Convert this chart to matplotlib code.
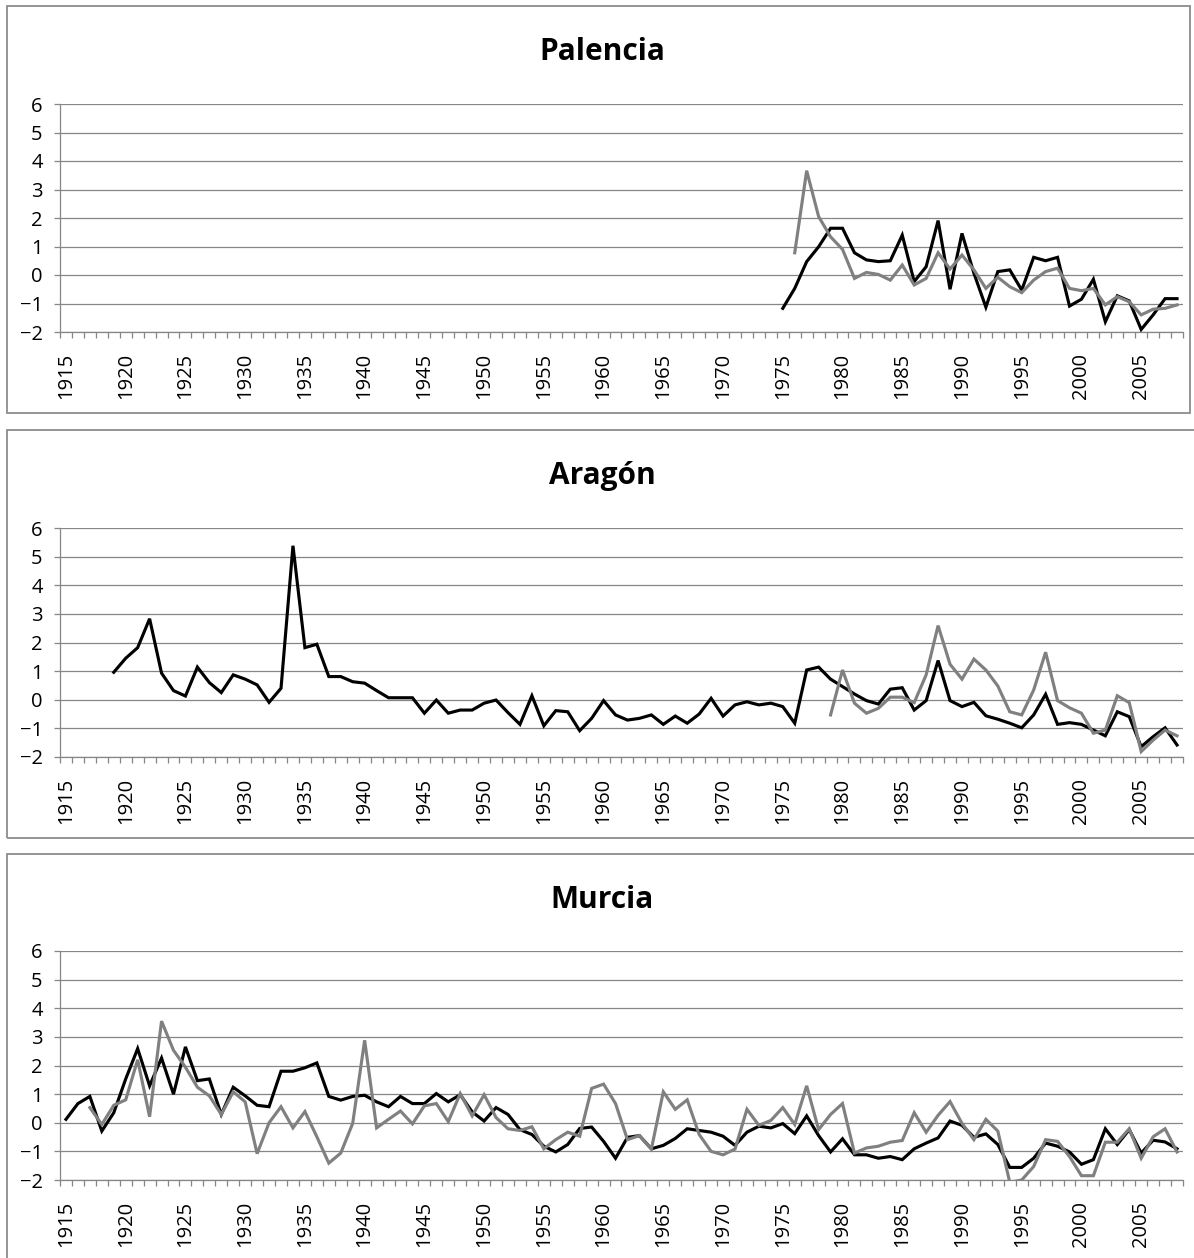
import matplotlib
matplotlib.use("Agg")
import matplotlib.pyplot as plt
from matplotlib.patches import Rectangle
import numpy as np

plt.rcParams['font.family'] = ['Open Sans', 'DejaVu Sans']

# ---- data ----
first_year = 1915
last_year = 2008
label_years = list(range(1915, 2006, 5))

titles = ["Palencia", "Aragón", "Murcia"]

palencia_black_start = 1975
palencia_black = [-1.17, -0.47, 0.47, 0.99, 1.64, 1.64, 0.78, 0.53, 0.47, 0.50,
                  1.40, -0.23, 0.29, 1.91, -0.50, 1.46, 0.06, -1.13, 0.12, 0.18,
                  -0.53, 0.62, 0.50, 0.62, -1.09, -0.85, -0.15, -1.64, -0.73, -0.91,
                  -1.91, -1.40, -0.83, -0.83]
palencia_grey_start = 1976
palencia_grey = [0.78, 3.66, 2.05, 1.34, 0.90, -0.12, 0.09, 0.02, -0.18, 0.35,
                 -0.35, -0.12, 0.78, 0.21, 0.70, 0.18, -0.47, -0.08, -0.41, -0.62,
                 -0.18, 0.12, 0.24, -0.47, -0.55, -0.47, -1.05, -0.76, -0.94, -1.40,
                 -1.20, -1.17, -1.05]

aragon_black_start = 1919
aragon_black = [0.96, 1.45, 1.82, 2.83, 0.93, 0.32, 0.13, 1.14, 0.60, 0.25,
                0.87, 0.72, 0.52, -0.09, 0.40, 5.38, 1.82, 1.94, 0.81, 0.81,
                0.63, 0.58, 0.32, 0.07, 0.07, 0.07, -0.47, -0.01, -0.47, -0.36,
                -0.36, -0.12, -0.01, -0.45, -0.86, 0.14, -0.91, -0.38, -0.42, -1.08,
                -0.65, -0.03, -0.53, -0.71, -0.65, -0.53, -0.86, -0.57, -0.82, -0.50,
                0.05, -0.57, -0.18, -0.07, -0.18, -0.12, -0.24, -0.82, 1.04, 1.14,
                0.72, 0.46, 0.20, -0.03, -0.15, 0.37, 0.42, -0.36, -0.03, 1.37,
                -0.03, -0.24, -0.09, -0.56, -0.68, -0.82, -0.98, -0.53, 0.19, -0.86,
                -0.80, -0.86, -1.06, -1.26, -0.42, -0.59, -1.64, -1.29, -0.98, -1.58]
aragon_grey_start = 1979
aragon_grey = [-0.53, 1.04, -0.12, -0.47, -0.30, 0.09, 0.09, -0.10, 0.87, 2.59,
               1.24, 0.72, 1.42, 1.04, 0.48, -0.42, -0.53, 0.34, 1.66, -0.03,
               -0.28, -0.47, -1.17, -1.06, 0.14, -0.10, -1.81, -1.41, -1.06, -1.26]

murcia_black_start = 1915
murcia_black = [0.12, 0.67, 0.92, -0.29, 0.35, 1.53, 2.59, 1.29, 2.26, 1.00,
                2.65, 1.47, 1.53, 0.29, 1.24, 0.94, 0.61, 0.56, 1.80, 1.80,
                1.92, 2.09, 0.92, 0.79, 0.92, 0.96, 0.73, 0.56, 0.92, 0.67,
                0.67, 1.02, 0.73, 0.98, 0.38, 0.06, 0.53, 0.29, -0.24, -0.41,
                -0.82, -1.02, -0.76, -0.20, -0.15, -0.65, -1.24, -0.51, -0.45, -0.91,
                -0.79, -0.55, -0.21, -0.27, -0.33, -0.47, -0.79, -0.33, -0.12, -0.18,
                -0.03, -0.38, 0.24, -0.45, -1.02, -0.56, -1.12, -1.12, -1.24, -1.18,
                -1.29, -0.91, -0.71, -0.53, 0.06, -0.09, -0.51, -0.39, -0.76, -1.56,
                -1.56, -1.24, -0.71, -0.82, -1.02, -1.45, -1.29, -0.21, -0.76, -0.24,
                -1.06, -0.61, -0.67, -0.91]
murcia_grey_start = 1917
murcia_grey = [0.53, -0.06, 0.61, 0.80, 2.20, 0.21, 3.55, 2.53, 1.94, 1.24,
               0.94, 0.29, 1.08, 0.73, -1.08, 0.00, 0.56, -0.18, 0.39, -0.49,
               -1.41, -1.06, -0.02, 2.88, -0.18, 0.12, 0.41, -0.04, 0.59, 0.67,
               0.04, 1.02, 0.24, 0.98, 0.18, -0.21, -0.27, -0.14, -0.91, -0.59,
               -0.33, -0.47, 1.20, 1.35, 0.67, -0.59, -0.45, -0.92, 1.08, 0.47,
               0.80, -0.41, -1.00, -1.12, -0.92, 0.47, -0.09, 0.08, 0.53, -0.06,
               1.29, -0.24, 0.29, 0.67, -1.06, -0.88, -0.82, -0.68, -0.62, 0.35,
               -0.33, 0.26, 0.74, -0.02, -0.59, 0.12, -0.29, -2.08, -2.00, -1.53,
               -0.59, -0.65, -1.18, -1.85, -1.85, -0.68, -0.68, -0.21, -1.24, -0.49,
               -0.21, -1.02]

panels = [
    (titles[0], palencia_black_start, palencia_black, palencia_grey_start, palencia_grey),
    (titles[1], aragon_black_start, aragon_black, aragon_grey_start, aragon_grey),
    (titles[2], murcia_black_start, murcia_black, murcia_grey_start, murcia_grey),
]

# ---- layout (pixel based) ----
W, H = 1194, 1258
fig = plt.figure(figsize=(W / 100, H / 100), dpi=100)

ax_left, ax_right = 60, 1183
ax_tops = [104, 528, 951]
ax_bottoms = [332, 757, 1180]
box_tops = [6, 430, 854]
box_bottoms = [413, 838, 1262]
box_rights = [1190, 1197, 1197]
title_y = [52, 476, 900]

grid_col = '#868686'
border_col = '#8c8c8c'

n_cat = last_year - first_year + 1

for i, (title, bs, bvals, gs, gvals) in enumerate(panels):
    # outer chart box
    fig.patches.append(Rectangle((7 / W, 1 - box_bottoms[i] / H),
                                 (box_rights[i] - 7) / W,
                                 (box_bottoms[i] - box_tops[i]) / H,
                                 transform=fig.transFigure, fill=False,
                                 edgecolor=border_col, linewidth=1.3, zorder=0))
    ax = fig.add_axes([ax_left / W, 1 - ax_bottoms[i] / H,
                       (ax_right - ax_left) / W,
                       (ax_bottoms[i] - ax_tops[i]) / H])
    ax.set_xlim(-0.5, n_cat - 0.5)
    ax.set_ylim(-2, 6)
    ax.set_yticks(range(-2, 7))
    ax.grid(axis='y', color=grid_col, linewidth=0.9)
    ax.set_axisbelow(True)
    for s in ['top', 'right']:
        ax.spines[s].set_visible(False)
    for s in ['left', 'bottom']:
        ax.spines[s].set_color(grid_col)
        ax.spines[s].set_linewidth(0.9)

    # x ticks at category boundaries, labels every 5 years
    ax.set_xticks(np.arange(-0.5, n_cat, 1.0))
    ax.set_xticklabels([])
    ax.tick_params(axis='x', which='major', direction='out', length=4.5,
                   color=grid_col, width=0.9)
    ax.set_xticks([y - first_year for y in label_years], minor=True)
    ax.set_xticklabels([str(y) for y in label_years], minor=True,
                       rotation=90, fontsize=14.5)
    ax.tick_params(axis='x', which='minor', length=0, pad=15)
    ax.tick_params(axis='y', direction='out', length=4.5, color=grid_col,
                   width=0.9, labelsize=14.5, pad=8)

    bx = np.arange(bs, bs + len(bvals)) - first_year
    gx = np.arange(gs, gs + len(gvals)) - first_year
    ax.plot(bx, bvals, color='black', linewidth=2.25, solid_joinstyle='miter',
            zorder=3)
    ax.plot(gx, gvals, color='#808080', linewidth=2.25, solid_joinstyle='miter',
            zorder=3)

    fig.text(602 / W, 1 - title_y[i] / H, title, ha='center', va='center',
             fontsize=21.5, fontweight='bold')

fig.savefig('out.png', dpi=100)
